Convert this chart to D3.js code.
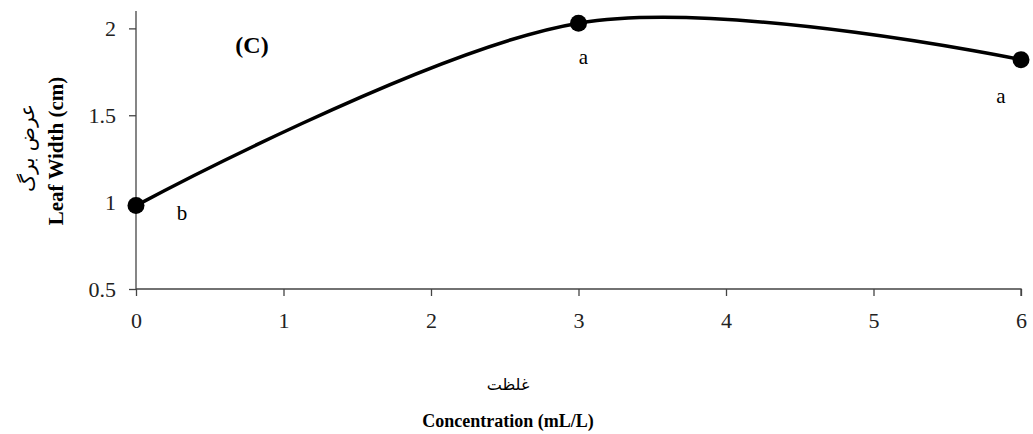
<!DOCTYPE html>
<html>
<head>
<meta charset="utf-8">
<script src="https://cdn.jsdelivr.net/npm/d3@7"></script>
<style>
  body { margin: 0; background: #fff; }
  .axis text { font-family: "Liberation Serif", "Times New Roman", serif; font-size: 22px; fill: #222; }
  .axis path, .axis line { stroke: #444; stroke-width: 1.3; }
</style>
</head>
<body>
<div id="chart"></div>
<script>
var concentration = [0, 3, 6];
var leafWidth = [0.98, 2.03, 1.82];
var letters = ["b", "a", "a"];
var xTicks = [0, 1, 2, 3, 4, 5, 6];
var yTicks = [0.5, 1, 1.5, 2];

var width = 1033, height = 434;

var x = d3.scaleLinear().domain([0, 6]).range([136, 1021]);
var y = d3.scaleLinear().domain([0.5, 2.1]).range([289, 11]);

var svg = d3.select("#chart").append("svg")
    .attr("width", width)
    .attr("height", height);

// axes
var yAxis = d3.axisLeft(y)
    .tickValues(yTicks)
    .tickSize(7)
    .tickPadding(13)
    .tickFormat(function(d) { return d; });

var gy = svg.append("g")
    .attr("class", "axis")
    .attr("transform", "translate(" + x(0) + ",0)")
    .call(yAxis);
gy.select(".domain").attr("d", "M0," + y(0.5) + "V" + y(2.1));

var xAxis = d3.axisBottom(x)
    .tickValues(xTicks)
    .tickSize(7)
    .tickPadding(16)
    .tickFormat(d3.format("d"));

var gx = svg.append("g")
    .attr("class", "axis")
    .attr("transform", "translate(0," + y(0.5) + ")")
    .call(xAxis);
gx.select(".domain").attr("d", "M" + x(0) + ",0H" + x(6) + "V7");

var data = concentration.map(function(c, i) {
    return { c: c, v: leafWidth[i], l: letters[i] };
});

// smoothed line (excel-like)
var line = d3.line()
    .x(function(d) { return x(d.c); })
    .y(function(d) { return y(d.v); })
    .curve(d3.curveCardinal.tension(0));

svg.append("path")
    .datum(data)
    .attr("d", line)
    .attr("fill", "none")
    .attr("stroke", "#000")
    .attr("stroke-width", 3.5);

svg.selectAll(".dot")
    .data(data)
    .enter().append("circle")
    .attr("class", "dot")
    .attr("cx", function(d) { return x(d.c); })
    .attr("cy", function(d) { return y(d.v); })
    .attr("r", 8.5)
    .attr("fill", "#000");

// significance letters
var letterOffset = [[46, 14], [5, 41], [-20, 43]];
svg.selectAll(".letter")
    .data(data)
    .enter().append("text")
    .attr("class", "letter")
    .attr("x", function(d, i) { return x(d.c) + letterOffset[i][0]; })
    .attr("y", function(d, i) { return y(d.v) + letterOffset[i][1]; })
    .attr("text-anchor", "middle")
    .style("font-family", "Liberation Serif, serif")
    .style("font-size", "21px")
    .text(function(d) { return d.l; });

// panel label
svg.append("text")
    .attr("x", 252)
    .attr("y", 53)
    .attr("text-anchor", "middle")
    .style("font-family", "Liberation Serif, serif")
    .style("font-weight", "bold")
    .style("font-size", "24px")
    .text("(C)");

// x titles
svg.append("text")
    .attr("x", 508)
    .attr("y", 390)
    .attr("text-anchor", "middle")
    .style("font-family", "DejaVu Sans, sans-serif")
    .style("font-size", "16px")
    .text("غلظت");

svg.append("text")
    .attr("x", 508)
    .attr("y", 427)
    .attr("text-anchor", "middle")
    .style("font-family", "Liberation Serif, serif")
    .style("font-weight", "bold")
    .style("font-size", "18px")
    .text("Concentration (mL/L)");

// y titles
svg.append("text")
    .attr("transform", "translate(63,151) rotate(-90)")
    .attr("text-anchor", "middle")
    .style("font-family", "Liberation Serif, serif")
    .style("font-weight", "bold")
    .style("font-size", "21px")
    .text("Leaf Width (cm)");

svg.append("text")
    .attr("transform", "translate(34,148) rotate(-90)")
    .attr("text-anchor", "middle")
    .style("font-family", "DejaVu Sans, sans-serif")
    .style("font-size", "20px")
    .text("عرض برگ");
</script>
</body>
</html>
